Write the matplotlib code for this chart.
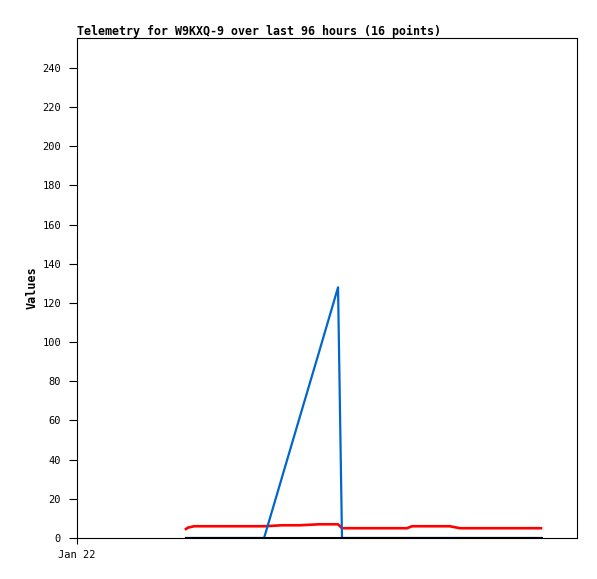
import matplotlib
matplotlib.use("Agg")
import matplotlib.pyplot as plt

# time in hours since Jan 22 00:00
hours = [5.23, 5.33, 5.62, 7.34, 8.98, 9.84, 10.70, 11.62, 12.53, 12.72,
         15.84, 16.08, 17.90, 18.38, 20.30, 22.27]
red_vals = [4.6, 5.3, 6, 6, 6, 6.5, 6.5, 7, 7, 5, 5, 6, 6, 5, 5, 5]
blue_vals = [0, 0, 0, 0, 0, 31, 62, 95, 128, 0, 0, 0, 0, 0, 0, 0]
black_vals = [0] * 16
x_ticks = [0]
x_tick_labels = ["Jan 22"]
y_ticks = list(range(0, 241, 20))

fig = plt.figure(figsize=(5.97, 5.79), dpi=100)
ax = fig.add_axes([77/597, 41/579, 500/597, 500/579])
mono = "DejaVu Sans Mono"

ax.plot(hours, red_vals, color="#ff0000", lw=1.9, zorder=2)
ax.plot(hours, blue_vals, color="#0066cc", lw=1.6, zorder=3)
ax.plot(hours, black_vals, color="#000000", lw=2.2, zorder=4)

ax.set_xlim(0, 24)
ax.set_ylim(0, 255.3)
ax.set_xticks(x_ticks)
ax.set_xticklabels(x_tick_labels, fontfamily=mono, fontsize=7.5)
ax.set_yticks(y_ticks)
ax.set_yticklabels([str(v) for v in y_ticks], fontfamily=mono, fontsize=7.5)
ax.tick_params(axis="y", direction="out", length=5.5, width=0.8, pad=6)
ax.tick_params(axis="x", direction="out", length=4.5, width=0.8, pad=4)
for s in ax.spines.values():
    s.set_linewidth(0.8)
ax.set_ylabel("Values", fontfamily=mono, fontsize=8.5, fontweight="bold", labelpad=2.5)
ax.set_title("Telemetry for W9KXQ-9 over last 96 hours (16 points)",
             fontfamily=mono, fontsize=8.4, fontweight="bold", loc="left", pad=2)

fig.savefig("out.png", dpi=100)
